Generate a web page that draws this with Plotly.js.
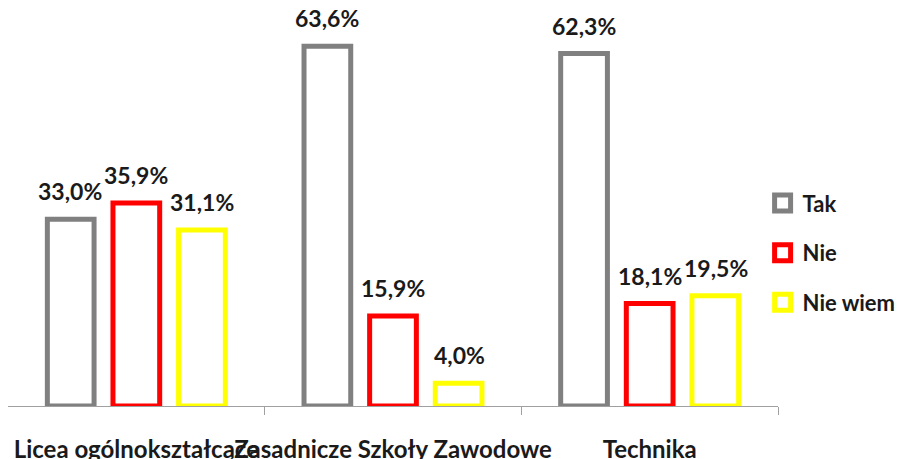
<!DOCTYPE html>
<html><head><meta charset="utf-8">
<script src="https://cdn.plot.ly/plotly-3.0.1.min.js"></script>
<style>html,body{margin:0;padding:0;background:#fff}</style>
</head><body>
<div id="chart" style="width:909px;height:459px"></div>
<script>
const categories = ["Licea ogólnokształcące", "Zasadnicze Szkoły Zawodowe", "Technika"];
const seriesNames = ["Tak", "Nie", "Nie wiem"];
const tak = [33.0, 63.6, 62.3];
const nie = [35.9, 15.9, 18.1];
const nieWiem = [31.1, 4.0, 19.5];
const colors = ["#808080", "#FF0000", "#FFFF00"];
const boundaries = [0.5, 1.5, 2.5];

const values = [tak, nie, nieWiem];
const font = "Lato, 'Open Sans', sans-serif";
const slotPx = 66; // pixel spacing between neighbouring bars in a group

const traces = values.map((v, i) => ({
  type: "bar",
  name: seriesNames[i],
  x: categories,
  y: v,
  showlegend: false,
  marker: {color: "#FFFFFF", line: {color: colors[i], width: 5}},
  hoverinfo: "skip"
}));
// legend entries with larger open-square symbols
seriesNames.forEach((n, i) => traces.push({
  type: "scatter", mode: "markers", name: n, x: [null], y: [null],
  legendgroup: "g" + i,
  marker: {symbol: "square", size: 18, color: "#FFFFFF", line: {color: colors[i], width: 5}},
  hoverinfo: "skip"
}));
// invisible trace on overlay axis to draw ticks at category boundaries
traces.push({type: "scatter", x: boundaries, y: [0,0,0], xaxis: "x2", mode: "markers",
  marker: {opacity: 0}, showlegend: false, hoverinfo: "skip"});

const annotations = [];
values.forEach((v, i) => v.forEach((val, j) => annotations.push({
  x: categories[j], y: val, xref: "x", yref: "y",
  text: "<b>" + val.toFixed(1).replace(".", ",") + "%</b>",
  showarrow: false, yanchor: "bottom", xanchor: "center",
  xshift: (i - 1) * slotPx, yshift: 12,
  font: {family: font, size: 23, color: "#1a1a1a"}
})));

const layout = {
  width: 909, height: 459,
  margin: {l: 8, r: 129, t: 10, b: 53},
  paper_bgcolor: "#FFFFFF", plot_bgcolor: "#FFFFFF",
  bargap: 0.233, bargroupgap: 0.288,
  barmode: "group",
  showlegend: true,
  annotations: annotations,
  legend: {x: 0.98, xanchor: "left", y: 0.387, yanchor: "middle",
    font: {family: font, size: 22, color: "#1a1a1a", weight: "bold"},
    tracegroupgap: 18, traceorder: "grouped", itemsizing: "trace"},
  xaxis: {type: "category", range: [-0.5, 2.5], showline: true, linecolor: "#A0A0A0", linewidth: 1,
    ticks: "", showgrid: false, zeroline: false, tickangle: 0, automargin: false,
    tickfont: {family: font, size: 24, color: "#1a1a1a", weight: "bold"}, ticklabelstandoff: 22},
  xaxis2: {overlaying: "x", range: [-0.5, 2.5], tickvals: boundaries, ticks: "outside", ticklen: 8,
    tickcolor: "#A0A0A0", showticklabels: false, showgrid: false, zeroline: false, showline: false,
    side: "bottom", anchor: "y"},
  yaxis: {range: [0, 70], visible: false, showgrid: false, zeroline: false}
};
Plotly.newPlot("chart", traces, layout, {displayModeBar: false, staticPlot: true});
</script>
</body></html>
